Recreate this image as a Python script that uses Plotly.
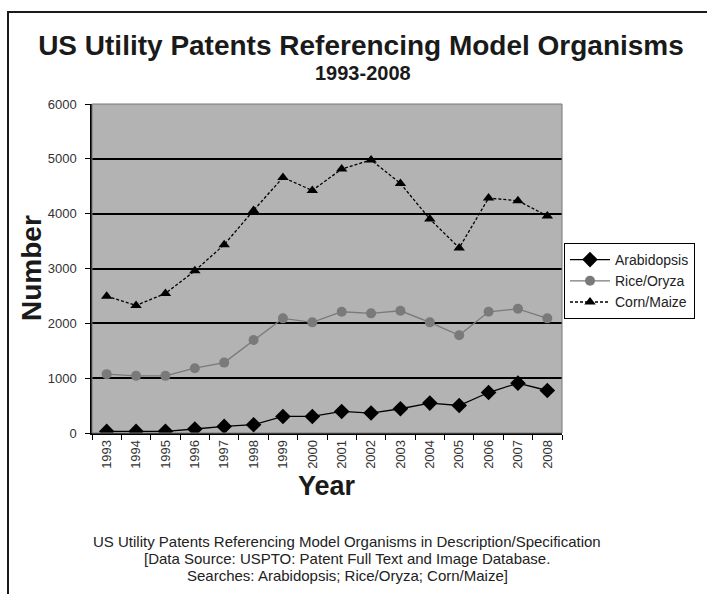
import plotly.graph_objects as go

years = [str(y) for y in range(1993, 2009)]
arabidopsis = [29, 29, 30, 73, 120, 151, 302, 302, 393, 364, 442, 545, 502, 738, 909, 775]
rice = [1073, 1042, 1042, 1182, 1284, 1696, 2091, 2018, 2211, 2182, 2229, 2018, 1782, 2211, 2265, 2091]
corn = [2496, 2327, 2545, 2957, 3434, 4060, 4660, 4424, 4813, 4980, 4551, 3903, 3375, 4284, 4236, 3957]

W, H = 707, 594
L, R, T, B = 92, 562, 104, 433  # plot area in pixels
pw, ph = R - L, B - T


def px(x):
    return (x - L) / pw


def py(y):
    return (B - y) / ph


fig = go.Figure()
fig.add_trace(go.Scatter(
    x=years, y=arabidopsis, name="Arabidopsis", mode="lines+markers",
    line=dict(color="black", width=1.3),
    marker=dict(symbol="diamond", size=12, color="black"),
))
fig.add_trace(go.Scatter(
    x=years, y=rice, name="Rice/Oryza", mode="lines+markers",
    line=dict(color="#7a7a7a", width=1.3),
    marker=dict(symbol="circle", size=10, color="#7a7a7a"),
))
fig.add_trace(go.Scatter(
    x=years, y=corn, name="Corn/Maize", mode="lines+markers",
    line=dict(color="black", width=1.3, dash="3px,2px"),
    marker=dict(symbol="triangle-up", size=10, color="black"),
))

font_family = "Liberation Sans, Arial, sans-serif"

fig.update_layout(
    width=W, height=H,
    margin=dict(l=L, r=W - R, t=T, b=H - B),
    paper_bgcolor="white",
    plot_bgcolor="#b3b3b3",
    font=dict(family=font_family, color="#333333", size=13),
    showlegend=True,
    legend=dict(
        x=px(564), y=py(243), xanchor="left", yanchor="top",
        bordercolor="black", borderwidth=1, bgcolor="white",
        font=dict(size=14, color="#222222"),
        itemwidth=40, tracegroupgap=0,
    ),
    title=dict(
        text="<b>US Utility Patents Referencing Model Organisms</b>",
        x=361 / W, xanchor="center", y=1 - 45 / H, yanchor="middle",
        font=dict(size=28, color="#1a1a1a"),
    ),
)

fig.update_xaxes(
    type="category", range=[-0.5, 15.5], tickangle=-90,
    ticks="outside", ticklen=5, tickcolor="black", tickson="boundaries",
    showline=True, linecolor="black", linewidth=1.5, mirror=False,
    showgrid=False, tickfont=dict(size=13, color="#333333"),
)
fig.update_yaxes(
    range=[0, 6000], dtick=1000, ticks="outside", ticklen=5, tickcolor="black",
    showline=True, linecolor="black", linewidth=1.5,
    showgrid=True, gridcolor="black", gridwidth=1.5, zeroline=False,
    tickfont=dict(size=13, color="#333333"), ticklabelstandoff=6,
)

# plot area border (right/top)
fig.add_shape(type="rect", xref="paper", yref="paper", x0=0, y0=0, x1=1, y1=1,
              line=dict(color="#777777", width=1), layer="above")

# outer frame (left and top edges visible)
fig.add_shape(type="path", xref="paper", yref="paper",
              path=f"M {px(8)},{py(600)} L {px(8)},{py(12)} L {px(712)},{py(12)}",
              line=dict(color="#1a1a1a", width=2))

fig.add_annotation(
    text="<b>1993-2008</b>", xref="paper", yref="paper",
    x=px(363), y=py(73), xanchor="center", yanchor="middle",
    showarrow=False, font=dict(size=20, color="#1a1a1a"),
)
fig.add_annotation(
    text="<b>Number</b>", xref="paper", yref="paper",
    x=px(31), y=py(268), xanchor="center", yanchor="middle", textangle=-90,
    showarrow=False, font=dict(size=28, color="#1a1a1a"),
)
fig.add_annotation(
    text="<b>Year</b>", xref="paper", yref="paper",
    x=px(327), y=py(486), xanchor="center", yanchor="middle",
    showarrow=False, font=dict(size=27, color="#1a1a1a"),
)

footnote = [
    "US Utility Patents Referencing Model Organisms in Description/Specification",
    "[Data Source: USPTO: Patent Full Text and Image Database.",
    "Searches: Arabidopsis; Rice/Oryza; Corn/Maize]",
]
for i, line in enumerate(footnote):
    fig.add_annotation(
        text=line, xref="paper", yref="paper",
        x=px(347), y=py(541 + 17 * i), xanchor="center", yanchor="middle",
        showarrow=False,
        font=dict(size=15, color="#222222"),
    )

fig.write_html("out.html", config={"displayModeBar": False},
               post_script="document.body.style.margin='0';")
